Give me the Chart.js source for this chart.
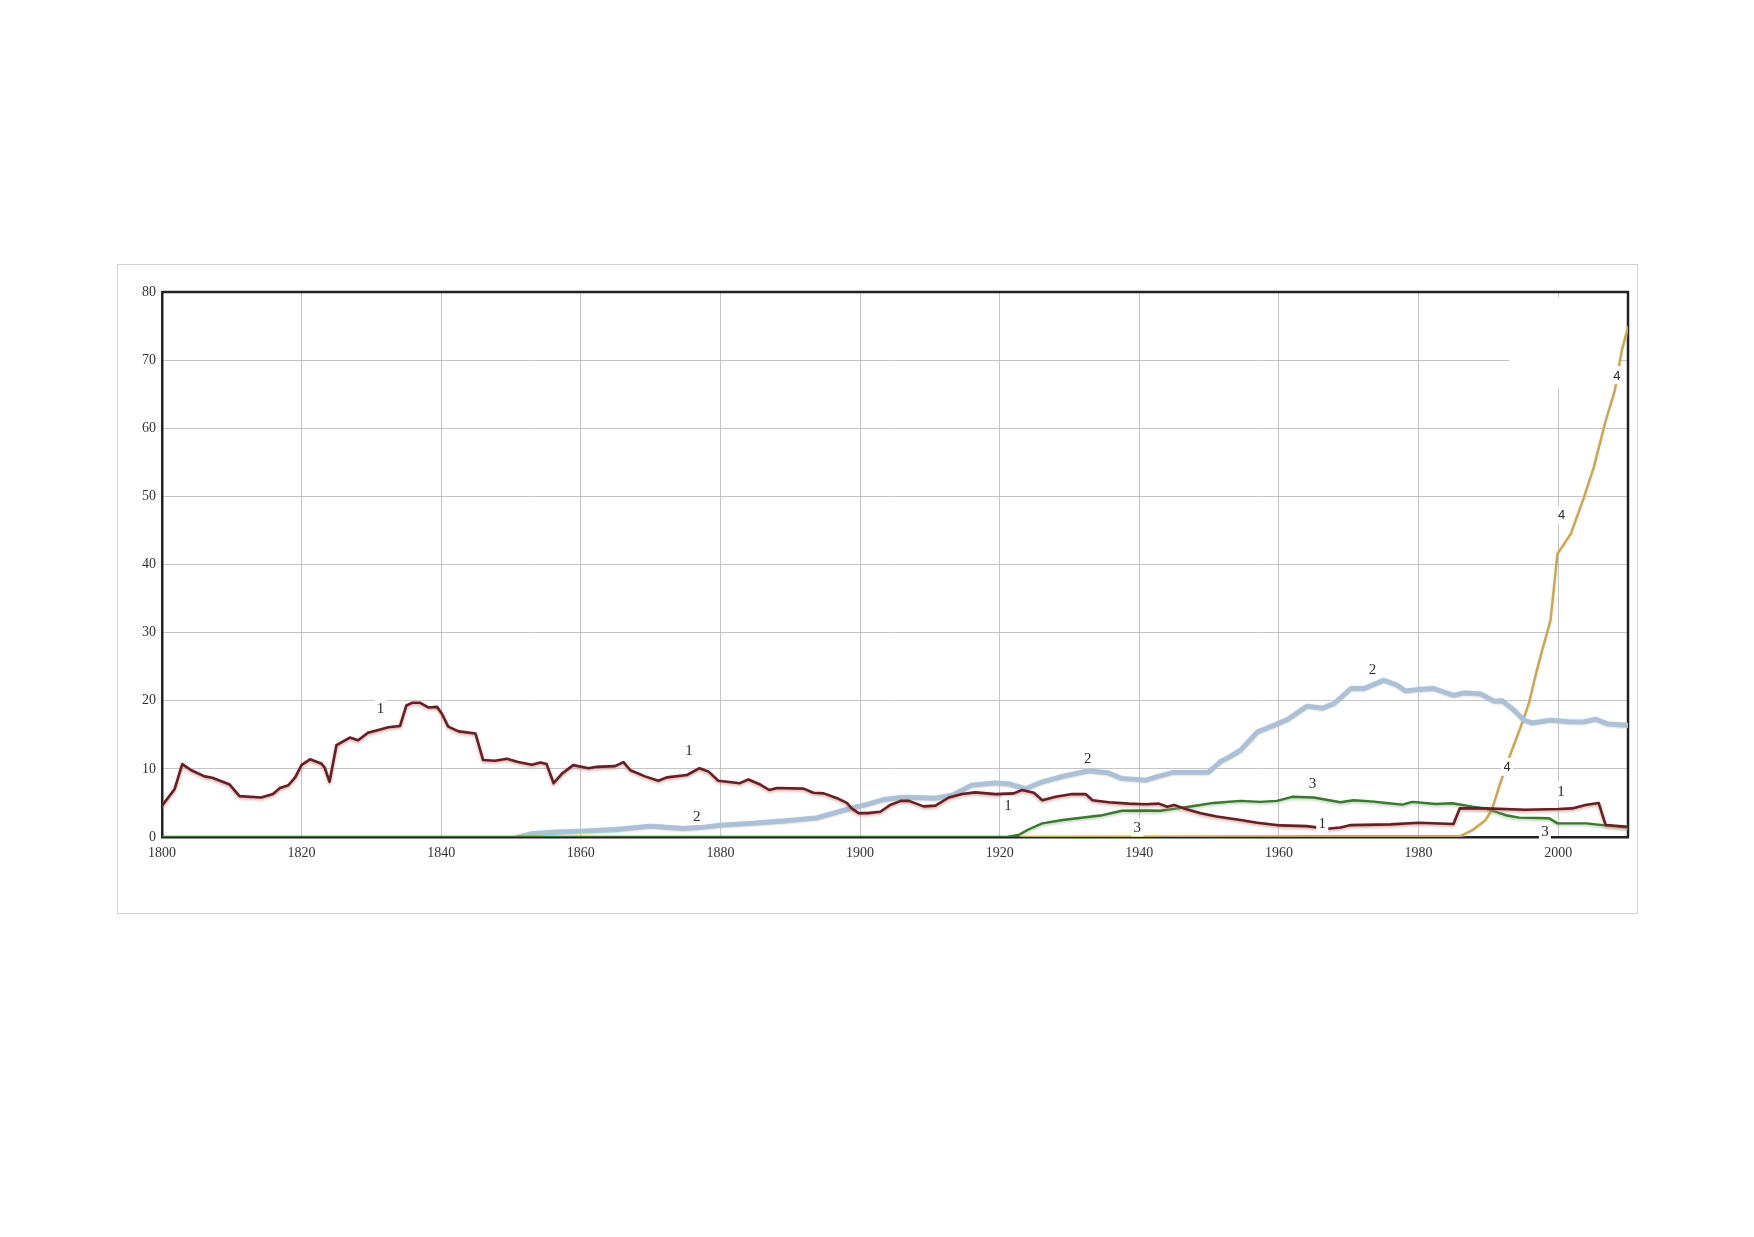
<!DOCTYPE html>
<html><head><meta charset="utf-8">
<script src="https://cdn.jsdelivr.net/npm/chart.js@4"></script>
<style>
html,body{margin:0;padding:0;background:#fff;}
#frame{position:absolute;left:117px;top:264px;width:1519px;height:648px;border:1px solid #d2d2d2;}
#wrap{position:absolute;left:0;top:0;width:1754px;height:1237px;}
</style></head><body>
<div id="frame"></div>
<div id="wrap"><canvas id="c" width="1754" height="1237"></canvas></div>
<script>
// ---- data ----
const s1Years = [1800,1801.8,1802.9,1804.2,1806.1,1807.2,1809.7,1811.1,1814.2,1815.9,1816.9,1818.1,1819.1,1820,1821.2,1822.8,1823.3,1824,1825,1826.9,1828.1,1829.5,1831,1832.4,1834.1,1835,1835.8,1837,1838.2,1839.4,1840.1,1841,1842.5,1844.9,1846,1847.7,1849.4,1851,1853,1854.2,1855.1,1856.1,1857.3,1858.9,1861.1,1862.3,1864.9,1866.1,1867.1,1869.2,1871.1,1872.3,1875.2,1877,1878.3,1879.7,1882.8,1884,1885.7,1887,1888.1,1891.9,1893.3,1894.8,1896.7,1898.1,1898.8,1899.8,1901,1902.9,1904.3,1905.8,1907,1909.1,1910.8,1912.7,1914.6,1916.5,1919.4,1922,1923.2,1924.9,1926.1,1928,1930.4,1932.3,1933.3,1935.6,1938.5,1940.9,1942.8,1944,1945,1946.4,1948.8,1951.1,1954.5,1956.9,1960.2,1964,1966.9,1968.8,1970.3,1976,1980,1985,1985.9,1989.6,1995.3,2000.1,2002,2003.9,2005.8,2006.8,2010];
const s1Values = [4.6,7.0,10.7,9.8,8.9,8.7,7.7,6.0,5.8,6.3,7.2,7.6,8.8,10.6,11.4,10.8,10.2,8.1,13.5,14.6,14.2,15.3,15.7,16.1,16.3,19.3,19.7,19.7,19.0,19.1,18.1,16.2,15.5,15.2,11.3,11.2,11.5,11.0,10.6,10.95,10.7,7.9,9.3,10.55,10.1,10.3,10.4,11.0,9.8,8.9,8.25,8.75,9.1,10.1,9.6,8.25,7.9,8.45,7.7,6.9,7.2,7.1,6.5,6.4,5.7,5.0,4.2,3.5,3.5,3.7,4.7,5.3,5.3,4.5,4.6,5.8,6.3,6.55,6.3,6.4,6.9,6.5,5.4,5.9,6.3,6.3,5.4,5.1,4.9,4.8,4.9,4.45,4.7,4.2,3.5,3.0,2.5,2.1,1.7,1.6,1.2,1.4,1.75,1.85,2.1,1.9,4.2,4.2,4.0,4.1,4.2,4.7,5.0,1.75,1.5];

const s2Years = [1851,1853,1856,1860,1865,1870,1874.7,1878,1880,1884.3,1889,1893.8,1896.2,1898.6,1901,1903.4,1905.8,1907.9,1910.8,1913.2,1916,1919.4,1921.3,1923.7,1926.1,1929,1932.7,1935.6,1937.5,1940.9,1942.5,1944.9,1949.9,1951.6,1953,1954.5,1956.9,1959.3,1961.2,1964,1966.2,1967.9,1970.3,1972.2,1975,1976.9,1978.1,1979.8,1982.2,1985,1986.5,1988.9,1990.8,1992,1993.7,1995.1,1996.3,1998.9,2001.8,2003.7,2005.4,2007.1,2010];
const s2Values = [0,0.5,0.7,0.85,1.1,1.6,1.25,1.5,1.75,2.0,2.35,2.8,3.5,4.2,4.8,5.5,5.8,5.8,5.7,6.15,7.6,7.95,7.8,7.1,8.1,8.9,9.7,9.4,8.6,8.35,8.85,9.5,9.5,11.05,11.8,12.75,15.4,16.4,17.25,19.2,18.9,19.6,21.8,21.8,23.0,22.3,21.45,21.65,21.8,20.8,21.15,21.0,19.95,20.0,18.6,17.15,16.75,17.15,16.9,16.9,17.3,16.6,16.4];

const s3Years = [1800,1921,1922.7,1924.1,1926.1,1929,1932.3,1934.7,1937.5,1940.9,1943,1945.4,1947.8,1950.6,1954.5,1957.3,1959.7,1961.9,1965,1968.8,1970.7,1973.6,1975.3,1977.7,1979.1,1982.5,1984.8,1987.7,1989.6,1992.5,1994.4,1998.7,1999.9,2004,2006.4,2010];
const s3Values = [0,0,0.3,1.1,2.0,2.5,2.9,3.2,3.85,3.9,3.85,4.2,4.55,5.0,5.3,5.15,5.3,5.9,5.8,5.1,5.4,5.2,5.0,4.75,5.15,4.85,4.95,4.45,4.2,3.2,2.85,2.75,2.0,2.0,1.75,1.4];

const s4Years = [1923,1986,1987.7,1989.6,1990.5,1991.7,1993.2,1994.6,1995.8,1996.7,1997.7,1998.9,1999.9,2001.8,2003.7,2005.1,2006.8,2008.1,2009.1,2010];
const s4Values = [0,0.15,1.0,2.5,4.0,7.9,12.3,16.1,19.6,23.5,27.4,31.8,41.6,44.5,49.9,54.3,61.1,65.5,71.4,74.8];

const xTickValues = [1800,1820,1840,1860,1880,1900,1920,1940,1960,1980,2000];
const yTickValues = [0,10,20,30,40,50,60,70,80];

const labelTexts  = ['1','1','2','1','2','3','3','1','2','4','1','3','4','4'];
const labelYears  = [1831.3,1875.5,1876.6,1921.2,1932.6,1939.7,1964.8,1966.2,1973.4,1992.7,2000.4,1998.1,2000.5,2008.4];
const labelValues = [19.0,12.75,3.1,4.7,11.6,1.4,7.9,2.0,24.6,10.3,6.8,0.8,47.3,67.8];

function pts(xs, ys){ return xs.map((x,i)=>({x:x,y:ys[i]})); }

const shadowPlugin = {
  id:'shadows',
  beforeDatasetDraw(chart, args){
    const ds = chart.data.datasets[args.index];
    const ctx = chart.ctx;
    ctx.save();
    if (ds.glow){ ctx.shadowColor = ds.glow; ctx.shadowBlur = ds.glowBlur||3; ctx.shadowOffsetY = ds.glowY||1.5; ctx.shadowOffsetX = 0; }
  },
  afterDatasetDraw(chart){ chart.ctx.restore(); }
};

const framePlugin = {
  id:'frame',
  beforeDatasetsDraw(chart){
    const {ctx, chartArea:a, scales:{x,y}} = chart;
    ctx.save();
    ctx.fillStyle = '#fff';
    const bx0 = x.getPixelForValue(1993), bx1 = x.getPixelForValue(2008.9);
    const by0 = y.getPixelForValue(79.2), by1 = y.getPixelForValue(65.9);
    ctx.fillRect(bx0, by0, bx1-bx0, by1-by0);
    ctx.strokeStyle = '#222'; ctx.lineWidth = 2.5;
    ctx.beginPath();
    ctx.moveTo(a.left, a.top); ctx.lineTo(a.right, a.top); ctx.lineTo(a.right, a.bottom);
    ctx.stroke();
    ctx.restore();
  }
};

const labelPlugin = {
  id:'lineLabels',
  afterDatasetsDraw(chart){
    const {ctx, scales:{x,y}} = chart;
    ctx.save();
    ctx.textAlign = 'center'; ctx.textBaseline = 'middle';
    labelTexts.forEach((t,i)=>{
      const px = x.getPixelForValue(labelYears[i]);
      const py = y.getPixelForValue(labelValues[i]);
      const sans = (t === '4');
      ctx.font = sans ? '13px "Liberation Sans", Arial, sans-serif' : '15px "Liberation Serif", "Times New Roman", serif';
      ctx.fillStyle = '#fff';
      ctx.fillRect(px-6, py-9, 12, 18);
      ctx.fillStyle = '#2a2a2a';
      ctx.fillText(t, px, py+1);
    });
    ctx.restore();
  }
};

const tickFont = {family:'"Liberation Serif", "Times New Roman", serif', size:14};

new Chart(document.getElementById('c'), {
  type:'line',
  data:{ datasets:[
    {label:'1', data:pts(s1Years,s1Values), borderColor:'#5f2227', borderWidth:2.6, glow:'rgba(215,125,125,0.75)', glowBlur:3, glowY:1.5},
    {label:'3', data:pts(s3Years,s3Values), borderColor:'#3d7532', borderWidth:2.4, glow:'rgba(120,180,110,0.6)', glowBlur:3, glowY:1.5},
    {label:'2', data:pts(s2Years,s2Values), borderColor:'#adc0d5', borderWidth:4.8, glow:'rgba(169,189,211,0.8)', glowBlur:2, glowY:0.5},
    {label:'4', data:pts(s4Years,s4Values), borderColor:'#c8a75c', borderWidth:2.4, glow:'rgba(225,205,150,0.7)', glowBlur:2, glowY:1}
  ]},
  options:{
    responsive:false, animation:false,
    layout:{padding:{left:112, right:126, top:292, bottom:360}},
    elements:{point:{radius:0}, line:{tension:0, borderJoinStyle:'round', borderCapStyle:'round'}},
    plugins:{legend:{display:false}, tooltip:{enabled:false}},
    scales:{
      x:{type:'linear', min:1800, max:2010,
        afterBuildTicks:s=>{ s.ticks = xTickValues.map(v=>({value:v})); },
        afterFit:s=>{ s.height = 40; },
        grid:{color:'#c4c4c4', lineWidth:1, drawTicks:false},
        border:{color:'#222', width:2.5},
        ticks:{font:tickFont, color:'#333', padding:8, maxRotation:0, autoSkip:false, callback:v=>String(v)}
      },
      y:{type:'linear', min:0, max:80,
        afterBuildTicks:s=>{ s.ticks = yTickValues.map(v=>({value:v})); },
        afterFit:s=>{ s.width = 50; },
        grid:{color:'#c4c4c4', lineWidth:1, drawTicks:false},
        border:{color:'#222', width:2.5},
        ticks:{font:tickFont, color:'#333', padding:6, callback:v=>String(v)}
      }
    }
  },
  plugins:[shadowPlugin, framePlugin, labelPlugin]
});
</script>
</body></html>
